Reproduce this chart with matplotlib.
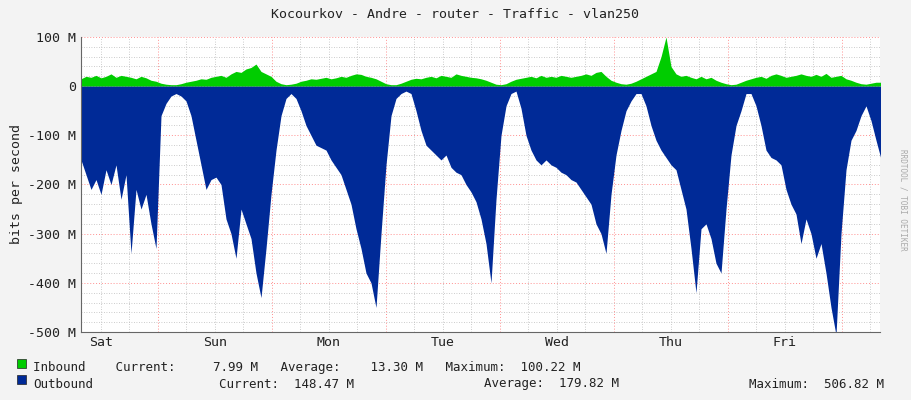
import matplotlib
matplotlib.use("Agg")
import matplotlib.pyplot as plt
import numpy as np
from matplotlib.ticker import MultipleLocator, FuncFormatter

plt.rcParams['font.family'] = ['DejaVu Sans Mono']

# samples every ~1.05 h starting Saturday 07:47 (hours since Sat 00:00)
start_hour = 7.79
step_hour = 24 * 5 / 114.0
outbound = [150,180,210,190,220,170,200,160,230,180,340,210,250,220,280,330,
            60,35,20,15,20,30,60,110,160,210,190,185,200,270,300,350,250,280,310,380,430,330,220,
            130,60,25,15,25,50,80,100,120,125,130,150,165,180,210,240,290,330,380,400,450,
            300,160,60,25,15,10,15,50,90,120,130,140,150,140,165,175,180,200,215,235,
            270,320,400,230,100,40,15,10,45,100,130,150,160,150,160,165,175,180,190,195,210,225,240,280,
            300,340,220,140,90,50,30,15,15,40,80,110,130,145,160,170,210,250,330,420,290,280,
            310,360,380,250,140,80,50,15,15,40,80,130,145,150,160,210,240,260,320,
            270,300,350,320,380,450,506,300,170,110,90,60,40,70,110,148]
inbound = [15,20,18,22,17,20,25,18,22,20,18,15,20,17,12,10,
           6,4,3,3,5,8,10,12,15,14,18,20,22,18,25,30,28,35,38,45,30,25,20,
           10,5,3,4,6,10,12,15,14,16,18,15,17,20,18,22,25,24,20,18,15,
           10,5,3,3,6,10,14,16,15,18,20,17,22,20,18,25,22,20,18,17,
           15,12,8,4,3,5,10,14,16,18,20,17,22,18,20,18,22,20,18,20,22,25,22,28,
           30,20,12,8,5,4,6,10,15,20,25,30,60,100,40,25,20,22,18,15,20,15,
           18,12,8,5,3,4,8,12,15,18,20,16,22,25,22,18,20,22,25,
           22,20,24,20,26,18,20,22,15,12,8,5,4,6,8,8]
day_labels = ["Sat", "Sun", "Mon", "Tue", "Wed", "Thu", "Fri"]

n = min(len(outbound), len(inbound))
t = start_hour + step_hour * np.arange(n)
out_v = -np.array(outbound[:n], float)
in_v = np.array(inbound[:n], float)

fs = 9
fig = plt.figure(figsize=(9.11, 4.0), dpi=100, facecolor='#f3f3f3')
ax = fig.add_axes([81/911, 1-332/400, (880-81)/911, (332-37)/400])
ax.set_facecolor('white')
ax.fill_between(t, 0, in_v, color='#00cc00', lw=0, zorder=3)
ax.fill_between(t, 0, out_v, color='#002a97', lw=0, zorder=3)
ax.set_xlim(t[0], t[0] + (880-81)/114*24)
ax.set_ylim(-500, 100)

ax.yaxis.set_major_locator(MultipleLocator(100))
ax.yaxis.set_minor_locator(MultipleLocator(20))
ax.yaxis.set_major_formatter(FuncFormatter(lambda v, p: '0' if v == 0 else f'{int(v)} M'))
ax.xaxis.set_major_locator(MultipleLocator(24))
ax.xaxis.set_minor_locator(MultipleLocator(6))
ax.set_xticklabels([])
for i, d in enumerate(day_labels):
    ax.text(12 + 24*i, -0.015, d, transform=ax.get_xaxis_transform(), ha='center', va='top', fontsize=fs+0.5, color='#222')
ax.grid(which='minor', color='#bbbbbb', ls=(0, (1, 2)), lw=0.6, zorder=1)
ax.grid(which='major', color='#ff9090', ls=(0, (1, 2)), lw=0.7, zorder=1)
ax.set_axisbelow(True)
ax.tick_params(which='both', length=0, labelsize=fs+0.5, colors='#222')
for s in ['top', 'right']:
    ax.spines[s].set_visible(False)
ax.spines['left'].set_color('#666'); ax.spines['bottom'].set_color('#666')
ax.spines['left'].set_zorder(4); ax.spines['bottom'].set_zorder(4)
ax.set_ylabel('bits per second', fontsize=fs+0.5, color='#222')

fig.text(455/911, 1-14/400, 'Kocourkov - Andre - router - Traffic - vlan250', ha='center', va='center', fontsize=fs+0.5, color='#222')
fig.text(903/911, 1-200/400, 'RRDTOOL / TOBI OETIKER', rotation=270, ha='center', va='center', fontsize=5.5, color='#aaa')

def sq(x, y, c):
    fig.patches.append(plt.Rectangle((x/911, 1-(y+5)/400), 9/911, 9/400, transform=fig.transFigure, facecolor=c, edgecolor='#222', lw=0.5))
sq(17, 363, '#00cc00')
sq(17, 379, '#002a97')
fig.text(33/911, 1-368/400, 'Inbound    Current:     7.99 M   Average:    13.30 M   Maximum:  100.22 M', fontsize=fs, va='center', color='#222')
fig.text(33/911, 1-384/400, 'Outbound', fontsize=fs, va='center', color='#222')
fig.text(219/911, 1-384/400, 'Current:  148.47 M', fontsize=fs, va='center', color='#222')
fig.text(484/911, 1-384/400, 'Average:  179.82 M', fontsize=fs, va='center', color='#222')
fig.text(749/911, 1-384/400, 'Maximum:  506.82 M', fontsize=fs, va='center', color='#222')
fig.savefig('out.png', dpi=100, facecolor=fig.get_facecolor())
